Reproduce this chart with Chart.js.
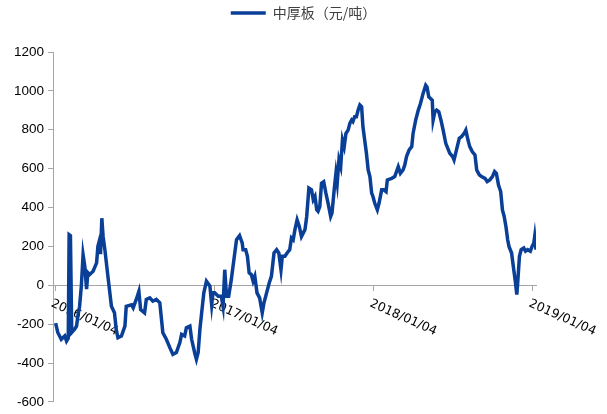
<!DOCTYPE html>
<html>
<head>
<meta charset="utf-8">
<script src="https://cdn.jsdelivr.net/npm/chart.js@4.4.1/dist/chart.umd.min.js"></script>
<style>
  html,body{margin:0;padding:0;background:#fff;}
  #wrap{width:607px;height:414px;}
</style>
</head>
<body>
<div id="wrap"><canvas id="ch"></canvas></div>
<script>
/* 中厚板（元/吨） — days counted from 2016/01/04 */
const seriesName='中厚板（元/吨）';
const days=[1,6,14,22,26,30,32,35,38,45,49,52,56,60,64,68,72,75,79,87,95,98,102,104,107,110,114,121,129,136,140,144,152,160,163,175,179,186,192,196,205,209,217,224,232,240,247,255,263,270,278,286,290,297,301,309,313,320,324,328,332,336,341,347,355,359,362,366,374,378,381,385,389,393,398,404,410,416,423,429,431,437,441,445,450,454,458,463,469,475,479,485,491,496,502,508,513,518,521,527,532,538,542,546,550,555,560,565,573,577,582,588,592,596,600,603,607,611,616,621,626,632,635,640,644,647,651,655,659,663,667,672,676,680,683,687,691,695,699,703,706,710,714,718,722,726,729,733,739,743,749,754,759,762,772,779,787,792,798,802,806,812,818,821,827,833,838,844,850,853,857,861,865,867,871,875,880,885,890,896,902,905,912,915,921,927,932,938,942,947,951,957,963,967,973,978,986,991,997,1003,1008,1012,1017,1022,1026,1030,1034,1038,1041,1047,1051,1055,1059,1061,1065,1069,1075,1079,1084,1090,1094,1098,1100,1103];
const values=[-195,-243,-278,-261,-287,-272,260,255,-243,-225,-210,-159,-108,-5,157,97,-20,65,55,72,115,200,234,160,345,250,183,46,-108,-141,-227,-270,-261,-210,-108,-100,-116,-73,-31,-125,-142,-73,-65,-82,-73,-90,-244,-278,-321,-355,-346,-295,-253,-261,-218,-210,-278,-347,-381,-346,-227,-142,-39,21,-5,-100,-39,-39,-56,-56,-56,-108,80,-56,-56,29,132,234,255,218,183,183,149,64,55,21,46,-39,-65,-142,-90,-39,12,46,166,183,166,80,149,149,166,183,243,234,286,337,303,251,286,354,500,491,440,457,388,380,405,525,533,474,423,354,371,491,576,525,645,611,747,713,781,798,833,850,842,867,867,901,927,918,815,747,679,593,559,474,457,423,388,423,491,491,482,542,550,559,610,576,593,619,662,696,713,781,850,901,935,987,1029,1020,969,961,952,850,892,901,892,850,798,730,696,680,661,645,700,756,764,781,798,747,713,687,670,593,568,559,550,533,542,559,585,576,516,482,388,354,302,234,200,166,97,29,-48,12,149,183,192,175,183,175,200,217,251,183];
const tickDays=[0,366,731,1096];
const tickLabels=['2016/01/04','2017/01/04','2018/01/04','2019/01/04'];
const yMin=-600, yMax=1200, yStep=200;

const LINE='#0A3F98';
const AXIS='#a6a6a6';

// x 轴标签：顺时针斜放在 0 轴下方
const yearLabels={
    id:'yearLabels',
    beforeDatasetsDraw(chart){
        const {ctx,scales:{x,y}}=chart;
        const y0=y.getPixelForValue(0);
        ctx.save();
        ctx.font='12.5px "DejaVu Sans"';
        ctx.fillStyle='#000';
        ctx.textAlign='left';
        ctx.textBaseline='top';
        tickDays.forEach((d,i)=>{
            ctx.save();
            ctx.translate(x.getPixelForValue(d)-1,y0+12);
            ctx.rotate(24*Math.PI/180);
            ctx.fillText(tickLabels[i],0,0);
            ctx.restore();
        });
        ctx.restore();
    }
};

// 图例下方留白
const legendGap={
    id:'legendGap',
    beforeInit(chart){
        const fit=chart.legend.fit;
        chart.legend.fit=function(){fit.bind(chart.legend)();this.height+=22;};
    }
};

new Chart(document.getElementById('ch').getContext('2d'),{
    type:'line',
    data:{datasets:[{
        label:seriesName,
        data:days.map((d,i)=>({x:d,y:values[i]})),
        borderColor:LINE,
        backgroundColor:LINE,
        borderWidth:3.5,
        pointRadius:0,
        tension:0,
        fill:false
    }]},
    options:{
        responsive:true,
        maintainAspectRatio:false,
        animation:false,
        layout:{padding:{top:0,left:0,right:0,bottom:12}},
        plugins:{
            legend:{display:true,position:'top',labels:{
                usePointStyle:true,pointStyle:'line',pointStyleWidth:35,
                color:'#404040',padding:6,
                font:{family:'"Noto Sans CJK SC"',size:14}
            }},
            tooltip:{enabled:false}
        },
        scales:{
            x:{
                type:'linear',min:-5,max:1103,position:{y:0},
                afterBuildTicks:s=>{s.ticks=tickDays.map(v=>({value:v}));},
                afterFit:s=>{s.height=0;},
                ticks:{display:false},
                grid:{drawOnChartArea:false,drawTicks:true,tickLength:5,color:AXIS},
                border:{color:AXIS,width:1}
            },
            y:{
                min:yMin,max:yMax,
                afterFit:s=>{s.width=53;},
                ticks:{stepSize:yStep,color:'#000',padding:4,callback:v=>String(v),font:{family:'"Liberation Sans"',size:13.5}},
                grid:{drawOnChartArea:false,drawTicks:true,tickLength:5,color:AXIS},
                border:{color:AXIS,width:1}
            },
            // 右侧空白
            yPad:{
                position:'right',min:yMin,max:yMax,
                afterFit:s=>{s.width=71;},
                ticks:{display:false},
                grid:{display:false},
                border:{display:false}
            }
        }
    },
    plugins:[yearLabels,legendGap]
});
</script>
</body>
</html>
